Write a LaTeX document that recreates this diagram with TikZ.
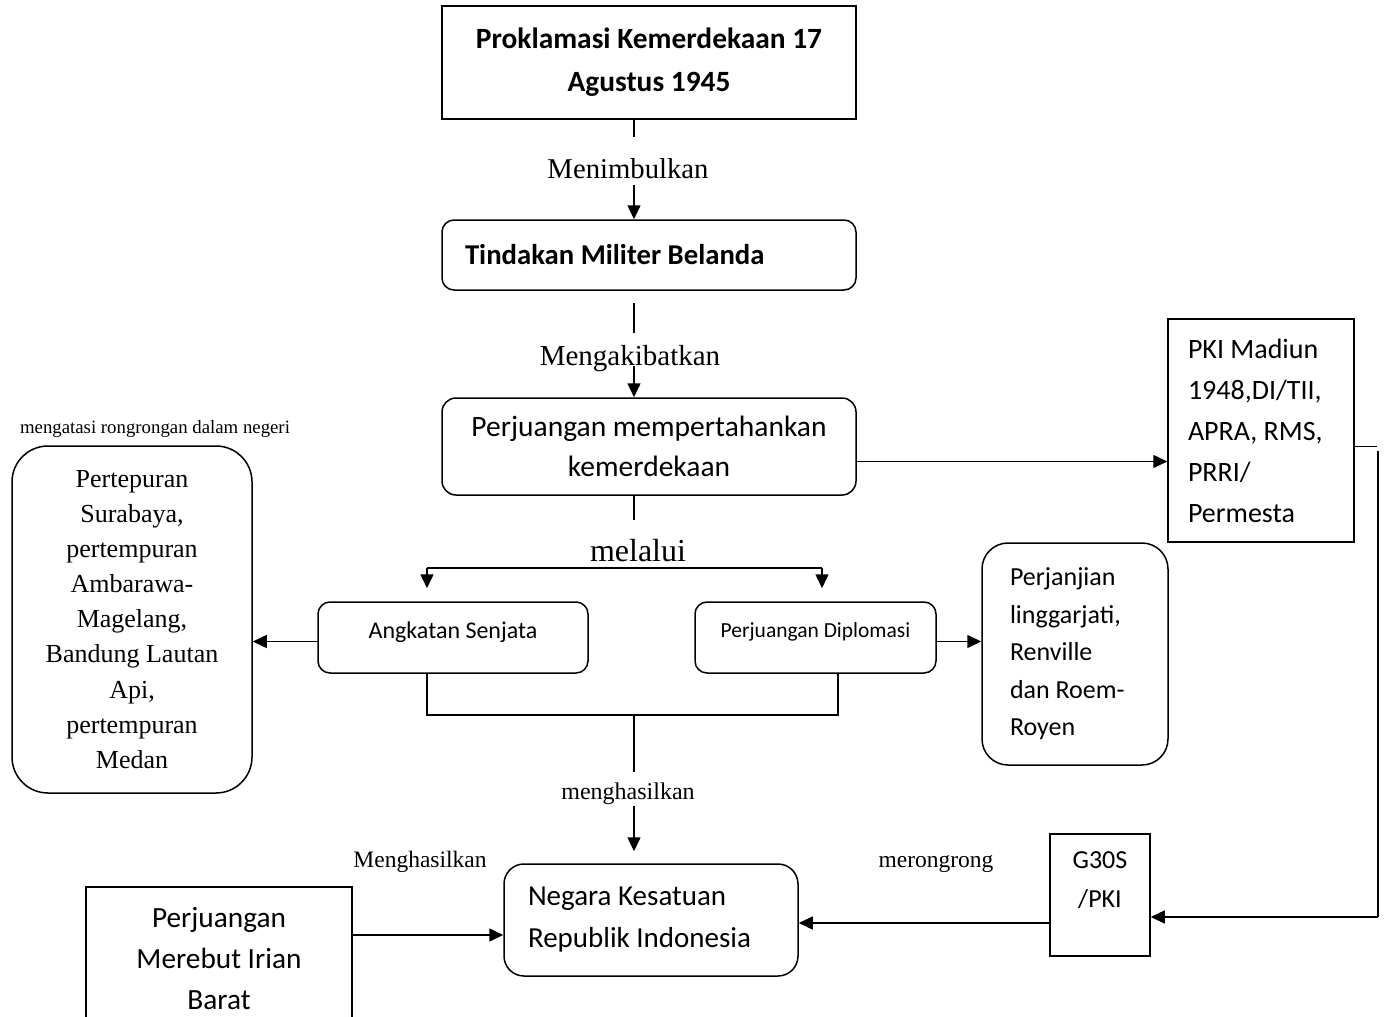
\documentclass[tikz,border=0pt]{standalone}
\usepackage{fontspec}
\setmainfont{Liberation Serif}
\newfontfamily\calibri{Carlito}
\usetikzlibrary{positioning,arrows.meta}

\begin{document}
\begin{tikzpicture}[x=1pt, y=-1pt,
  every node/.style={inner sep=0pt},
  sqbox/.style={rectangle, draw, line width=1.5pt, align=center},
  rbox/.style={rectangle, rounded corners=12pt, draw, line width=1.5pt},
  conn/.style={line width=1.5pt},
  arrow/.style={line width=1.5pt, -{Triangle[length=14pt,width=13pt]}},
  lbl/.style={anchor=base, font=\fontsize{28.7}{30}\selectfont}
]
\clip (0,0) rectangle (1384,1017);

% boxes
\node[sqbox, minimum width=414pt, minimum height=113pt,
      font=\calibri\bfseries\fontsize{29.4}{43}\selectfont] (prok) at (649,62.5)
      {Proklamasi Kemerdekaan 17\\Agustus 1945};
\node[rbox, minimum height=70pt, text width=368pt, inner xsep=23pt, align=flush left,
      font=\calibri\bfseries\fontsize{28.7}{30}\selectfont] (tind) at (649,255)
      {Tindakan Militer Belanda};
\node[rbox, rounded corners=14pt, minimum width=414pt, minimum height=97pt, align=center,
      font=\calibri\fontsize{29.5}{40}\selectfont] (perj) at (649,446.5)
      {Perjuangan mempertahankan\\kemerdekaan};
\node[sqbox, minimum height=223pt, text width=146pt, inner xsep=20pt, align=flush left,
      font=\calibri\fontsize{28}{41}\selectfont] (pki) at (1261,430.5)
      {PKI Madiun\\1948,DI/TII,\\APRA, RMS,\\PRRI/\\Permesta};
\node[rbox, minimum width=270pt, minimum height=71pt, align=center, text depth=14pt,
      font=\calibri\fontsize{24}{26}\selectfont] (angk) at (453,637.5)
      {Angkatan Senjata};
\node[rbox, minimum width=241pt, minimum height=71pt, align=center, text depth=14pt,
      font=\calibri\fontsize{21.5}{24}\selectfont] (dipl) at (815.5,637.5)
      {Perjuangan Diplomasi};
\node[rbox, rounded corners=26pt, minimum height=222pt, text width=130pt, inner xsep=28pt,
      align=flush left, font=\calibri\fontsize{26}{37.5}\selectfont] (janji) at (1075,654)
      {Perjanjian\\linggarjati,\\Renville\\dan Roem-\\Royen};
\node[rbox, rounded corners=36pt, minimum width=240pt, minimum height=347pt, align=center,
      font=\fontsize{26}{35.1}\selectfont] (pert) at (132,619.5)
      {Pertepuran\\Surabaya,\\pertempuran\\Ambarawa-\\Magelang,\\Bandung Lautan\\Api,\\pertempuran\\Medan};
\node[rbox, rounded corners=20pt, minimum height=112pt, text width=246pt, inner xsep=24pt,
      align=flush left, font=\calibri\fontsize{29}{42}\selectfont] (nkri) at (651,920)
      {Negara Kesatuan\\Republik Indonesia};
\node[sqbox, minimum width=266pt, minimum height=144pt,
      font=\calibri\fontsize{29.3}{41}\selectfont] (irian) at (219,959)
      {Perjuangan\\Merebut Irian\\Barat};
\node[sqbox, minimum width=100pt, minimum height=122pt, text depth=30pt,
      font=\calibri\fontsize{26}{39}\selectfont] (g30) at (1100,895)
      {G30S\\/PKI};

% labels
\node[lbl] (menimbul) at (628,178) {Menimbulkan};
\node[lbl, font=\fontsize{29}{30}\selectfont] (akibat) at (630,365) {Mengakibatkan};
\node[lbl, font=\fontsize{32}{34}\selectfont] (lalui) at (638,561) {melalui};
\node[lbl, font=\fontsize{24}{26}\selectfont] (hasil) at (628,799) {menghasilkan};
\node[lbl, font=\fontsize{23.5}{26}\selectfont] (hasil2) at (420,867) {Menghasilkan};
\node[lbl, font=\fontsize{23.5}{26}\selectfont] (rong) at (936,867) {merongrong};
\node[lbl, font=\fontsize{18.8}{20}\selectfont] (atasi) at (155,433) {mengatasi rongrongan dalam negeri};

% turning points
\coordinate (c1) at (634,137);
\coordinate (c2) at (634,185);
\coordinate (c3) at (634,303);
\coordinate (c4) at (634,333);
\coordinate (c5) at (634,366);
\coordinate (c6) at (634,520);
\coordinate (mL) at (427,568);
\coordinate (mR) at (822,568);
\coordinate (bL) at (427,715);
\coordinate (bR) at (838,715);
\coordinate (bM) at (634,715);
\coordinate (c7) at (634,772);
\coordinate (c8) at (634,806);
\coordinate (turn) at (1378,917);

% connectors
\draw[conn] (prok.south -| c1) -- (c1);
\draw[arrow] (c2) -- (tind.north -| c2);
\draw[conn] (c3) -- (c4);
\draw[arrow] (c5) -- (perj.north -| c5);
\draw[conn] (perj.south -| c6) -- (c6);
\draw[conn] (mL) -- (mR);
\draw[arrow, shorten >=13pt] (mL) -- (angk.north -| mL);
\draw[arrow, shorten >=13pt] (mR) -- (dipl.north -| mR);
\draw[conn] (angk.south -| bL) -- (bL) -- (bR) -- (dipl.south -| bR);
\draw[conn] (bM) -- (c7);
\draw[arrow, shorten >=12pt] (c8) -- (nkri.north -| c8);
\draw[arrow] ([yshift=-15pt]perj.east) -- ([yshift=-15pt]perj.east -| pki.west);
\draw[arrow] ([yshift=-4pt]angk.west) -- ([yshift=-4pt]angk.west -| pert.east);
\draw[arrow] ([yshift=-4pt]dipl.east) -- ([yshift=-4pt]dipl.east -| janji.west);
\draw[conn] ([yshift=-16pt]pki.east) -- ++(22,0);
\draw[conn] (turn |- pki.east) ++(0,20) -- (turn);
\draw[arrow] (turn) -- (turn -| g30.east);
\draw[arrow] ([yshift=-3pt]nkri.east -| g30.west) -- ([yshift=-3pt]nkri.east);
\draw[arrow] ([yshift=-15pt]nkri.west -| irian.east) -- ([yshift=-15pt]nkri.west);

\end{tikzpicture}
\end{document}
